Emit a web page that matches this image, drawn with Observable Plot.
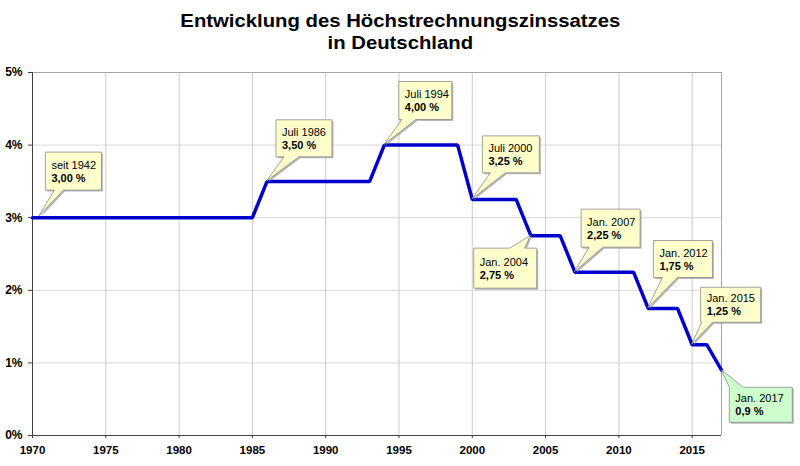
<!DOCTYPE html>
<html>
<head>
<meta charset="utf-8">
<script src="https://cdn.jsdelivr.net/npm/d3@7"></script>
<script src="https://cdn.jsdelivr.net/npm/@observablehq/plot@0.6"></script>
<style>
  html, body { margin: 0; padding: 0; background: #fff; }
  #title { width: 800px; height: 60px; box-sizing: border-box; padding-top: 10px;
    font: bold 17.5px "Liberation Sans", Arial, sans-serif; line-height: 22px;
    text-align: center; color: #000; transform: scaleX(1.16); transform-origin: 398px 0; }
  #chart svg { display: block; }
</style>
</head>
<body>
<div id="title">Entwicklung des Höchstrechnungszinssatzes<br>in Deutschland</div>
<div id="chart"></div>
<script>
// ---- data ----
const lineYears = [1970, 1985, 1986, 1993, 1994, 1999, 2000, 2003, 2004, 2006, 2007, 2011, 2012, 2014, 2015, 2016, 2017];
const lineRates = [3, 3, 3.5, 3.5, 4, 4, 3.25, 3.25, 2.75, 2.75, 2.25, 2.25, 1.75, 1.75, 1.25, 1.25, 0.9];

const calloutYears  = [1970, 1986, 1994, 2000, 2004, 2007, 2012, 2015, 2017];
const calloutRates  = [3, 3.5, 4, 3.25, 2.75, 2.25, 1.75, 1.25, 0.9];
const calloutDates  = ["seit 1942", "Juli 1986", "Juli 1994", "Juli 2000", "Jan. 2004", "Jan. 2007", "Jan. 2012", "Jan. 2015", "Jan. 2017"];
const calloutValues = ["3,00 %", "3,50 %", "4,00 %", "3,25 %", "2,75 %", "2,25 %", "1,75 %", "1,25 %", "0,9 %"];

const xTicks = [1970, 1975, 1980, 1985, 1990, 1995, 2000, 2005, 2010, 2015];
const yTicks = [0, 1, 2, 3, 4, 5];

// ---- layout of callouts (pixel offsets from anchor point) ----
const calloutLayout = [
  {dx: 13.4, dy: -65.1, w: 56, h: 38, side: "bottom", b1: 9, b2: 18, tipDx: 7, tipDy: -1.5},
  {dx: 9.4,  dy: -61.1, w: 56, h: 37, side: "bottom", b1: 8, b2: 23, tipDx: 0, tipDy: 0},
  {dx: 15,   dy: -63.1, w: 53, h: 38, side: "bottom", b1: 3, b2: 17, tipDx: 0, tipDy: 0},
  {dx: 10.6, dy: -63.2, w: 57, h: 37, side: "bottom", b1: 8, b2: 23, tipDx: 0, tipDy: 0},
  {dx: -56.7, dy: 12.8, w: 63, h: 40, side: "top",    b1: 36, b2: 51, tipDx: 0, tipDy: 0},
  {dx: 6.7,  dy: -62.5, w: 59, h: 38, side: "bottom", b1: 8, b2: 22, tipDx: 0, tipDy: 0},
  {dx: 5.7,  dy: -67.4, w: 59, h: 37, side: "bottom", b1: 9, b2: 24, tipDx: 0, tipDy: 0},
  {dx: 9,    dy: -57,   w: 60, h: 35, side: "bottom", b1: 1, b2: 12, tipDx: 0, tipDy: 0},
  {dx: 8.3,  dy: 17.6,  w: 63, h: 35, side: "top",    b1: 0, b2: 14, tipDx: 0, tipDy: 0, fill: "#CCFFCC"}
];

const points = lineYears.map((year, i) => ({year, rate: lineRates[i]}));

function calloutMark(index, scales) {
  const g = d3.create("svg:g")
    .attr("font-family", "'Liberation Sans', Arial, sans-serif")
    .attr("font-size", 11)
    .attr("text-anchor", "start");
  calloutYears.forEach((yr, i) => {
    const L = calloutLayout[i];
    const px = scales.x(yr), py = scales.y(calloutRates[i]);
    const tx = px + L.tipDx, ty = py + L.tipDy;
    const left = px + L.dx, top = py + L.dy, w = L.w, h = L.h;
    let p;
    if (L.side === "bottom") {
      p = `M${left},${top}H${left + w}V${top + h}H${left + L.b2}L${tx},${ty}L${left + L.b1},${top + h}H${left}Z`;
    } else {
      p = `M${left},${top}H${left + L.b1}L${tx},${ty}L${left + L.b2},${top}H${left + w}V${top + h}H${left}Z`;
    }
    g.append("path").attr("d", p).attr("transform", "translate(1.5,1.5)")
      .attr("fill", "#9a9a9a").attr("fill-opacity", 0.7);
    g.append("path").attr("d", p).attr("fill", L.fill || "#FFFFCC")
      .attr("stroke", "#8a8a8a").attr("stroke-width", 0.8);
    g.append("text").attr("x", left + 6).attr("y", top + h / 2 - 2.5)
      .attr("text-anchor", "start").attr("fill", "#000").text(calloutDates[i]);
    g.append("text").attr("x", left + 6).attr("y", top + h / 2 + 10.5)
      .attr("text-anchor", "start").attr("fill", "#000").attr("font-weight", "bold").text(calloutValues[i]);
  });
  return g.node();
}

const plot = Plot.plot({
  width: 800,
  height: 406,
  marginTop: 12,
  marginBottom: 31,
  marginLeft: 32,
  marginRight: 79,
  style: {fontFamily: "'Liberation Sans', Arial, sans-serif", background: "white", color: "#000"},
  x: {domain: [1970, 2017]},
  y: {domain: [0, 5]},
  marks: [
    Plot.gridY(yTicks.slice(1, -1), {stroke: "#d9d9d9", strokeOpacity: 1}),
    Plot.gridX(xTicks.slice(1), {stroke: "#cccccc", strokeOpacity: 1}),
    Plot.ruleY([5], {stroke: "#a6a6a6"}),
    Plot.ruleX([2017], {stroke: "#a6a6a6"}),
    Plot.axisY(yTicks, {tickFormat: d => d + "%", tickSize: 4, tickPadding: 6, fontWeight: "bold", fontSize: 12, label: null, stroke: "#404040"}),
    Plot.axisX(xTicks, {tickFormat: d => String(d), tickSize: 3, tickPadding: 7, fontWeight: "bold", fontSize: 11.5, label: null, stroke: "#404040"}),
    Plot.ruleX([1970], {stroke: "#404040"}),
    Plot.ruleY([0], {stroke: "#404040"}),
    Plot.line(points, {x: "year", y: "rate", stroke: "#0000CC", strokeWidth: 3.5, strokeLinejoin: "miter"}),
    calloutMark
  ]
});
document.getElementById("chart").appendChild(plot);
</script>
</body>
</html>
